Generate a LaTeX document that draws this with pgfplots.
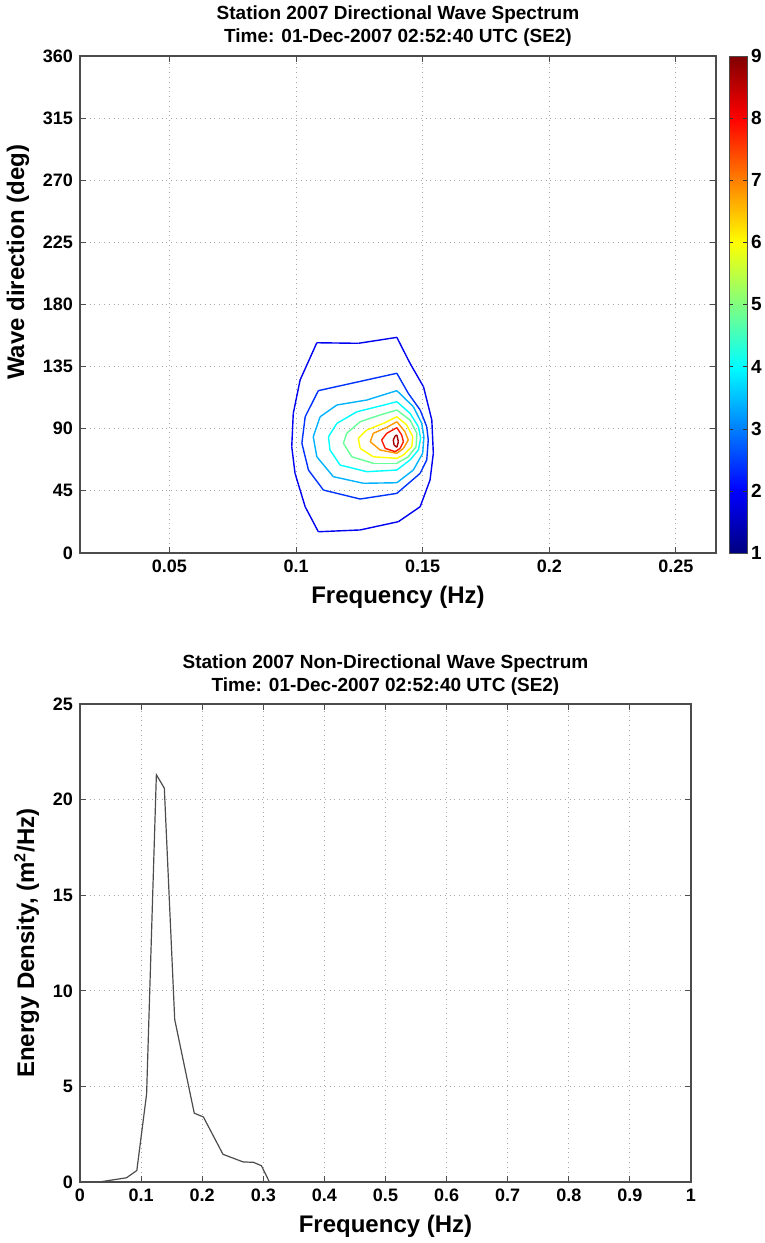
\documentclass[border=0pt]{standalone}
\usepackage{fontspec}
\setmainfont{Liberation Sans}
\usepackage{pgfplots}
\pgfplotsset{compat=1.18}

\pgfplotsset{
  matlab/.style={
    scale only axis,
    axis line style={black!70, line width=0.6pt},
    tick style={black!70, line width=0.5pt},
    major tick length=3pt,
    tick align=inside,
    grid=major,
    grid style={black!35, dotted, line width=0.5pt},
    tick label style={font=\bfseries\fontsize{9}{10}\selectfont},
    /pgf/number format/assume math mode=true,
    label style={font=\bfseries\fontsize{12}{14}\selectfont},
    title style={font=\bfseries\fontsize{9.5}{11.5}\selectfont, align=center, yshift=-5pt},
  },
}

\begin{document}
\begin{tikzpicture}
\path[use as bounding box] (-40pt,28pt) rectangle (342.5pt,-593.5pt);

% directional spectrum (contour lines)
\begin{axis}[
  matlab,
  at={(0,0)}, anchor=north west,
  width=318pt, height=248.5pt,
  xmin=0.0147, xmax=0.2658,
  ymin=0, ymax=360,
  xtick={0.05,0.1,0.15,0.2,0.25},
  xticklabels={0.05,0.1,0.15,0.2,0.25},
  ytick={0,45,...,360},
  xlabel={Frequency (Hz)},
  ylabel={Wave direction (deg)},
  every axis y label/.append style={at={(ticklabel cs:0.585)}},
  title={Station 2007 Directional Wave Spectrum\\Time: 01-Dec-2007 02:52:40 UTC (SE2)},
  colormap/jet,
  point meta min=1, point meta max=9,
  colorbar,
  colorbar style={
    at={(parent axis.north east)}, anchor=north west, xshift=-2pt,
    width=9pt,
    ytick={1,...,9},
    /pgf/number format/assume math mode=true,
    yticklabel style={font=\bfseries\fontsize{9.5}{10}\selectfont, xshift=-1.5pt},
    axis line style={black!70},
    major tick length=2pt,
    tick style={black!80},
  },
]
\addplot[mesh, point meta=1.9, line width=0.7pt] coordinates {
 (0.1082,152.3) (0.1246,151.9) (0.1398,156.2) (0.1450,137.4) (0.1503,120.5)
 (0.1536,96.3) (0.1542,72.2) (0.1529,52.9) (0.1490,33.5) (0.1404,22.7)
 (0.1253,16.7) (0.1088,15.4) (0.1036,33.5) (0.0996,57.7) (0.0983,77.0)
 (0.0989,101.1) (0.1016,125.3) (0.1082,152.3)
};
\addplot[mesh, point meta=2.4, line width=0.7pt] coordinates {
 (0.1088,117.6) (0.1398,130.2) (0.1443,115.7) (0.1490,103.6) (0.1516,91.5)
 (0.1522,81.8) (0.1516,67.4) (0.1490,57.7) (0.1398,43.2) (0.1253,39.1)
 (0.1108,45.6) (0.1049,60.1) (0.1023,79.5) (0.1036,98.7) (0.1088,117.6)
};
\addplot[mesh, point meta=3.4, line width=0.7pt] coordinates {
 (0.1398,117.6) (0.1463,106.0) (0.1496,94.0) (0.1505,84.2) (0.1500,72.2)
 (0.1463,60.1) (0.1398,50.9) (0.1266,50.5) (0.1147,55.3) (0.1082,69.7)
 (0.1068,84.2) (0.1095,98.7) (0.1161,107.2) (0.1279,110.8) (0.1398,117.6)
};
\addplot[mesh, point meta=4.0, line width=0.7pt] coordinates {
 (0.1398,109.6) (0.1450,101.2) (0.1483,91.5) (0.1492,83.1) (0.1483,74.6)
 (0.1450,67.4) (0.1398,60.1) (0.1279,58.9) (0.1174,63.7) (0.1134,74.6)
 (0.1128,84.2) (0.1161,93.9) (0.1240,102.3) (0.1332,106.5) (0.1398,109.6)
};
\addplot[mesh, point meta=4.8, line width=0.7pt] coordinates {
 (0.1398,103.6) (0.1450,96.3) (0.1477,86.7) (0.1474,77.0) (0.1443,69.7)
 (0.1398,65.0) (0.1305,65.0) (0.1220,69.7) (0.1187,79.5) (0.1200,86.7)
 (0.1253,95.1) (0.1332,100.0) (0.1398,103.6)
};
\addplot[mesh, point meta=6.0, line width=0.7pt] coordinates {
 (0.1398,98.7) (0.1437,92.7) (0.1461,84.2) (0.1457,77.0) (0.1424,71.0)
 (0.1398,68.6) (0.1305,69.7) (0.1253,75.8) (0.1246,83.1) (0.1279,89.1)
 (0.1345,93.9) (0.1398,98.7)
};
\addplot[mesh, point meta=6.8, line width=0.7pt] coordinates {
 (0.1398,95.1) (0.1430,87.9) (0.1443,81.8) (0.1424,75.8) (0.1398,72.2)
 (0.1332,74.6) (0.1293,80.6) (0.1305,86.7) (0.1358,91.0) (0.1398,95.1)
};
\addplot[mesh, point meta=7.8, line width=0.7pt] coordinates {
 (0.1398,90.8) (0.1417,85.5) (0.1424,80.6) (0.1411,75.8) (0.1391,73.4)
 (0.1352,75.8) (0.1338,81.8) (0.1358,86.7) (0.1398,90.8)
};
\addplot[mesh, point meta=8.7, line width=0.7pt] coordinates {
 (0.1398,85.5) (0.1404,80.6) (0.1398,76.6) (0.1387,78.2) (0.1384,81.8)
 (0.1391,84.7) (0.1398,85.5)
};
\end{axis}

% non-directional spectrum
\begin{axis}[
  matlab,
  at={(0,-324pt)}, anchor=north west,
  width=305.5pt, height=239pt,
  xmin=0, xmax=1, ymin=0, ymax=25,
  xtick={0,0.1,...,1},
  xticklabels={0,0.1,0.2,0.3,0.4,0.5,0.6,0.7,0.8,0.9,1},
  ytick={0,5,...,25},
  xlabel={Frequency (Hz)},
  ylabel={Energy Density, (m\textsuperscript{2}/Hz)},
  title={Station 2007 Non-Directional Wave Spectrum\\Time: 01-Dec-2007 02:52:40 UTC (SE2)},
]
\addplot[black!70, line width=0.6pt] coordinates {
 (0.035,0.02) (0.076,0.22) (0.093,0.6) (0.109,4.6) (0.125,21.3) (0.138,20.6)
 (0.155,8.5) (0.187,3.6) (0.202,3.4) (0.234,1.45) (0.267,1.05) (0.284,1.03)
 (0.297,0.85) (0.310,0.0)
};
\end{axis}
\end{tikzpicture}
\end{document}
